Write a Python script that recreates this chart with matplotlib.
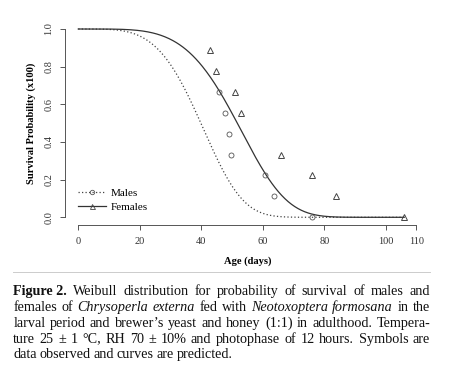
import numpy as np
import matplotlib
matplotlib.use("Agg")
import matplotlib.pyplot as plt
from matplotlib.lines import Line2D

# observed survival (symbols)
male_age = [45.9, 47.8, 48.9, 49.8, 60.8, 63.8, 75.9]
male_surv = [0.667, 0.556, 0.444, 0.333, 0.222, 0.111, 0.0]
female_age = [42.8, 44.9, 51.0, 52.8, 65.9, 75.9, 83.8, 106.0]
female_surv = [0.889, 0.778, 0.667, 0.556, 0.333, 0.222, 0.111, 0.0]

# predicted Weibull curves (scale, shape)
groups = ["Males", "Females"]
weibull_scale = [43.5, 56.0]
weibull_shape = [4.2, 4.6]
curve_end = 106

xticks = [0, 20, 40, 60, 80, 100, 110]
yticks = [0.0, 0.2, 0.4, 0.6, 0.8, 1.0]

caption_lines = [
    [("Figure 2.", "bold"), ("Weibull", ""), ("distribution", ""), ("for", ""), ("probability", ""),
     ("of", ""), ("survival", ""), ("of", ""), ("males", ""), ("and", "")],
    [("females", ""), ("of", ""), ("Chrysoperla", "italic"), ("externa", "italic"), ("fed", ""),
     ("with", ""), ("Neotoxoptera", "italic"), ("formosana", "italic"), ("in", ""), ("the", "")],
    [("larval", ""), ("period", ""), ("and", ""), ("brewer\u2019s", ""), ("yeast", ""), ("and", ""),
     ("honey", ""), ("(1:1)", ""), ("in", ""), ("adulthood.", ""), ("Tempera-", "")],
    [("ture", ""), ("25", ""), ("\u00b1", ""), ("1", ""), ("\u00b0C,", ""), ("RH", ""), ("70", ""),
     ("\u00b1", ""), ("10%", ""), ("and", ""), ("photophase", ""), ("of", ""), ("12", ""),
     ("hours.", ""), ("Symbols", ""), ("are", "")],
    [("data", ""), ("observed", ""), ("and", ""), ("curves", ""), ("are", ""), ("predicted.", "")],
]

plt.rcParams['font.family'] = ['Liberation Serif', 'DejaVu Serif']
W, H = 450, 370
fig = plt.figure(figsize=(W / 100, H / 100), dpi=100)
ax = fig.add_axes([78.3 / W, (H - 217.3) / H, 338.2 / W, 188.3 / H])
ax.set_xlim(0, 110)
ax.set_ylim(0, 1)

t = np.linspace(0, curve_end, 400)
styles = [dict(ls=(0, (1.0, 1.8)), color="#444444"), dict(ls="-", color="#333333")]
for scale, shape, st in zip(weibull_scale, weibull_shape, styles):
    ax.plot(t, np.exp(-(t / scale) ** shape), lw=0.9, clip_on=False, **st)

ax.plot(male_age, male_surv, ls="none", marker="o", ms=3.6, mfc="none",
        mec="#555555", mew=0.6, clip_on=False)
ax.plot(female_age, female_surv, ls="none", marker="^", ms=4.2, mfc="none",
        mec="#444444", mew=0.7, clip_on=False)

for s in ["top", "right"]:
    ax.spines[s].set_visible(False)
ax.spines["left"].set_position(("outward", 9.6))
ax.spines["bottom"].set_position(("outward", 5.5))
ax.spines["left"].set_bounds(0, 1)
ax.spines["bottom"].set_bounds(0, 110)
for s in ["left", "bottom"]:
    ax.spines[s].set_color("#555555")
    ax.spines[s].set_linewidth(0.7)
ax.set_xticks(xticks)
ax.set_yticks(yticks)
ax.set_xticklabels([str(v) for v in xticks])
ax.set_yticklabels(["%.1f" % v for v in yticks], rotation=90, va="center")
ax.tick_params(length=3.5, width=0.7, color="#555555", labelsize=7.5,
               labelcolor="#333333", pad=5)
ax.set_xlabel("Age (days)", fontsize=7.6, fontweight="bold", labelpad=8)
ax.set_ylabel("Survival Probability (x100)", fontsize=7.6, fontweight="bold", labelpad=6)

handles = [Line2D([], [], marker="o", ms=3.2, mfc="none", mec="#555555", mew=0.6, lw=0.9, **styles[0]),
           Line2D([], [], marker="^", ms=3.6, mfc="none", mec="#444444", mew=0.6, lw=0.9, **styles[1])]
ax.legend(handles, groups, loc="upper left", bbox_to_anchor=(0.0, 0.155), frameon=False,
          fontsize=8, handlelength=2.5, handletextpad=0.4, labelspacing=0.4,
          borderpad=0, borderaxespad=0)

# separator line
fig.add_artist(Line2D([12.7 / W, 430 / W], [(H - 272.3) / H] * 2, color="#cccccc", lw=0.7))

# justified caption
fig.canvas.draw()
r = fig.canvas.get_renderer()
left, right = 13.3, 430.0
for i, line in enumerate(caption_lines):
    y = (H - (291.7 + i * 15.8)) / H
    texts = []
    for word, st in line:
        kw = dict(fontsize=10.2, color="#111111", va="center", ha="left")
        if st == "bold":
            kw["fontweight"] = "bold"
        elif st == "italic":
            kw["fontstyle"] = "italic"
        texts.append(fig.text(0, y, word, **kw))
    widths = [tx.get_window_extent(r).width for tx in texts]
    if i < len(caption_lines) - 1:
        gap = (right - left - sum(widths)) / (len(texts) - 1)
    else:
        gap = 2.8
    x = left
    for tx, w in zip(texts, widths):
        tx.set_x(x / W)
        x += w + gap

fig.savefig("out.png", dpi=100)
